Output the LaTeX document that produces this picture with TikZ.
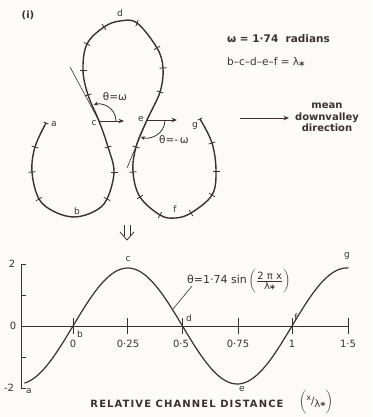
\documentclass[tikz,border=0pt]{standalone}
\usepackage{fontspec}
\setmainfont{DejaVu Sans}
\newfontfamily\spaced[LetterSpace=11]{DejaVu Sans}
\usetikzlibrary{arrows.meta,calc}
\definecolor{ink}{RGB}{58,50,48}
\definecolor{paper}{RGB}{253,251,248}
\newcommand\tk[4]{\draw[tickln] ($(#1,#2)+(#3,#4)$) -- ($(#1,#2)-(#3,#4)$);}
\begin{document}
\begin{tikzpicture}[x=1pt,y=-1pt,
  every node/.style={text=ink, inner sep=0pt},
  meander/.style={draw=ink, line width=1.4pt, line join=round},
  tickln/.style={draw=ink, line width=0.8pt},
  thinln/.style={draw=ink, line width=0.6pt},
  axisln/.style={draw=ink, line width=0.9pt},
  arr/.style={draw=ink, line width=0.9pt, -{Stealth[length=5.5pt,width=4.5pt]}},
  arcarr/.style={draw=ink, line width=0.8pt, -{Stealth[length=4.5pt,width=4pt]}},
  lbl/.style={font=\fontsize{9}{10}\selectfont},
  ticklbl/.style={font=\fontsize{10}{11}\selectfont},
  boldlbl/.style={font=\bfseries\fontsize{10.5}{12}\selectfont},
  plainlbl/.style={font=\fontsize{10.5}{12}\selectfont}]
\fill[paper] (0,0) rectangle (372,417);
\useasboundingbox (0,0) rectangle (372,417);

% ---------- planform ----------
\node[font=\bfseries\fontsize{10}{11}\selectfont] (ttl) at (28,15) {(i)};
\draw[meander] plot[smooth, tension=0.6] coordinates {
 (46,123) (35,147) (32,172) (39,199) (55,212) (75,217) (95,211) (107,199)
 (114,172) (108,147) (99,121) (88,95) (83,70) (87,44) (104,27) (120,21)
 (137,23) (157,48) (163,68) (160,92) (147,120) (136,147) (133,172)
 (140,197) (160,215) (175,218) (191,213) (212,195) (216,171) (212,143) (200,119)};
% ticks
\tk{46}{123}{2.4}{1.1}
\tk{35}{147}{3.4}{1.0}
\tk{32}{172}{3.5}{-0.3}
\tk{39}{199}{3.0}{-1.75}
\tk{107}{199}{3.1}{1.6}
\tk{114}{172}{3.5}{0}
\tk{108}{147}{3.4}{-1.0}
\tk{88}{95}{3.3}{-1.05}
\tk{83}{70}{3.5}{0}
\tk{87}{44}{3.1}{1.5}
\tk{104}{27}{1.9}{2.9}
\tk{137}{23}{-1.2}{3.3}
\tk{157}{48}{-3.0}{1.75}
\tk{163}{68}{-3.5}{0.2}
\tk{160}{92}{3.3}{1.05}
\tk{136}{147}{3.4}{0.9}
\tk{133}{172}{3.5}{-0.3}
\tk{140}{197}{3.0}{-1.85}
\tk{160}{215}{1.75}{-3.0}
\tk{191}{213}{1.8}{3.0}
\tk{212}{195}{3.0}{1.8}
\tk{216}{171}{3.5}{0}
\tk{212}{143}{3.35}{-1.0}
\tk{200}{119}{2.2}{-1.1}

\coordinate (c) at (99,121);
\coordinate (e) at (147,120);
\coordinate (ct) at (70,67);
\coordinate (et) at (127,168);
\coordinate (cr) at (124,121);
\coordinate (er) at (177,120);
\draw[thinln] (ct) -- (c);
\draw[thinln] (e) -- (et);
\draw[arr] (c) -- (cr);
\draw[arr] (e) -- (er);
\draw[arcarr] ($(c)+(17,0)$) arc[start angle=0, end angle=-108, radius=17];
\draw[arcarr] ($(e)+(18,0)$) arc[start angle=0, end angle=110, radius=18];

\node[lbl] (pa) at (54,124) {a};
\node[lbl] (pb) at (77,211) {b};
\node[lbl] (pc) at (94,123) {c};
\node[lbl] (pd) at (120,13) {d};
\node[lbl] (pe) at (141,119) {e};
\node[lbl] (pf) at (175,209) {f};
\node[lbl] (pg) at (195,126) {g};
\node[plainlbl] (th1) at (115,97) {θ=ω};
\node[plainlbl] (th2) at (174,140) {θ=-\,ω};

% ---------- key ----------
\node[boldlbl, anchor=west] (om) at (227,39) {ω = 1·74\ \ radians};
\node[plainlbl, anchor=west] (lam) at (227,64) {b–c–d–e–f = λ\raisebox{-4pt}{\bfseries *}};
\coordinate (m1) at (240,118);
\coordinate (m2) at (289,118);
\draw[arr] (m1) -- (m2);
\node[align=center, font=\bfseries\fontsize{10}{11.5}\selectfont] (mdd) at (327,117.5) {mean\\downvalley\\direction};

% ---------- double arrow ----------
\draw[ink, line width=0.8pt] (124,225) -- (124,235.5);
\draw[ink, line width=0.8pt] (130,225) -- (130,235.5);
\draw[ink, line width=0.8pt, line join=round] (120,232) -- (127,240) -- (134,232);

% ---------- plot ----------
\draw[axisln] (26,264) -- (21,264) -- (21,388) -- (26,388);
\draw[axisln] (21,295) -- (26,295);
\draw[axisln] (21,357) -- (26,357);
\draw[axisln] (21,326) -- (349,326);
\foreach \t in {73,127,182,238,292,348} \draw[axisln] (\t,318) -- (\t,334);
\node[ticklbl] (y2) at (12,264) {2};
\node[ticklbl] (y0) at (13,326) {0};
\node[ticklbl] (ym2) at (9,388) {-2};
\node[ticklbl] (x0) at (73,343.5) {0};
\node[ticklbl] (x1) at (128,343.5) {0·25};
\node[ticklbl] (x2) at (181,343.5) {0·5};
\node[ticklbl] (x3) at (238,343.5) {0·75};
\node[ticklbl] (x4) at (292,343.5) {1};
\node[ticklbl] (x5) at (348,343.5) {1·5};

\draw[ink, line width=1.2pt] plot[domain=-0.222:1.258, samples=120, smooth] ({73+219*\x},{326-58*sin(360*\x)});

\node[lbl] (qa) at (29,391) {a};
\node[lbl] (qb) at (80,334) {b};
\node[lbl] (qc) at (128,259) {c};
\node[lbl] (qd) at (189,318) {d};
\node[lbl] (qe) at (242,389) {e};
\node[lbl] (qf) at (296,317) {f};
\node[lbl] (qg) at (347,256) {g};

\node[font=\fontsize{11}{12}\selectfont, anchor=west] (eq) at (187,281) {θ=1·74 sin\,$\left(\frac{\hbox{\fontsize{10}{11}\selectfont 2 π x}}{\hbox{\fontsize{10}{11}\selectfont λ\raisebox{-3pt}{\bfseries *}}}\right)$};
\coordinate (lp) at (173,309);
\coordinate (lq) at (192,286);
\draw[thinln] (lp) -- (lq);

\node[font=\spaced\bfseries\fontsize{10}{11}\selectfont] (xl) at (187,404) {RELATIVE CHANNEL DISTANCE};
\node[font=\fontsize{10}{11}\selectfont] (xu) at (316,402) {$\biggl($\raisebox{4pt}{\fontsize{8}{9}\selectfont x}/\raisebox{-3pt}{\fontsize{10}{11}\selectfont λ\raisebox{-2pt}{\bfseries *}}$\biggr)$};
\end{tikzpicture}
\end{document}
